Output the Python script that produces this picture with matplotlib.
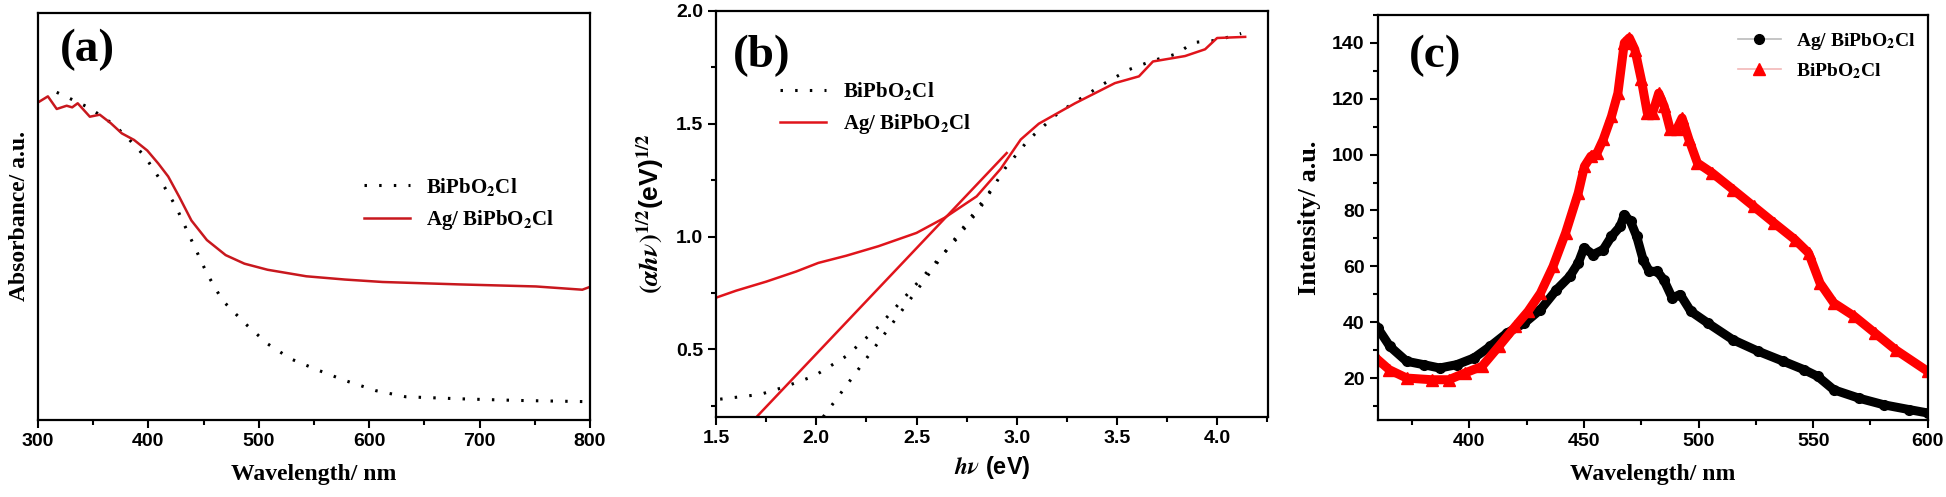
import numpy as np
import matplotlib
matplotlib.use("Agg")
import matplotlib.pyplot as plt
from matplotlib.ticker import MultipleLocator
from matplotlib.lines import Line2D

plt.rcParams['font.family'] = ['Liberation Sans', 'DejaVu Sans']
plt.rcParams['font.weight'] = 'bold'
plt.rcParams['mathtext.fontset'] = 'stix'

# (a) UV-vis absorbance, arbitrary units (0..1 of plot height)
wl_ag = [300, 309, 317, 326, 331, 336, 347, 356, 366, 376, 387, 399, 409, 418, 428,
         439, 453, 470, 487, 508, 543, 578, 612, 682, 751, 793, 800]
abs_ag = [0.780, 0.795, 0.764, 0.772, 0.768, 0.778, 0.745, 0.750, 0.729, 0.704, 0.688,
          0.662, 0.630, 0.598, 0.548, 0.490, 0.442, 0.405, 0.384, 0.369, 0.353, 0.345,
          0.339, 0.333, 0.328, 0.320, 0.327]
wl_bi = [317, 335, 347, 369, 383, 397, 411, 425, 439, 453, 467, 488, 508, 529, 554,
         578, 606, 633, 682, 734, 797]
abs_bi = [0.805, 0.782, 0.766, 0.725, 0.688, 0.647, 0.589, 0.524, 0.442, 0.360, 0.294,
          0.236, 0.187, 0.150, 0.122, 0.097, 0.072, 0.057, 0.052, 0.048, 0.045]

# (b) Tauc plot
ev_ag = [1.50, 1.60, 1.75, 1.90, 2.01, 2.15, 2.31, 2.50, 2.64, 2.80, 2.92, 3.02, 3.11,
         3.29, 3.49, 3.61, 3.68, 3.84, 3.94, 4.00, 4.14]
tauc_ag = [0.729, 0.760, 0.800, 0.845, 0.883, 0.915, 0.957, 1.016, 1.083, 1.178, 1.300,
           1.430, 1.500, 1.590, 1.680, 1.710, 1.776, 1.800, 1.830, 1.880, 1.885]
ev_bi = [1.52, 1.72, 1.83, 1.99, 2.15, 2.31, 2.46, 2.58, 2.70, 2.82, 2.94, 3.06, 3.21,
         3.44, 3.56, 3.68, 3.80, 3.88, 4.00, 4.12]
tauc_bi = [0.279, 0.300, 0.330, 0.382, 0.470, 0.600, 0.750, 0.870, 0.990, 1.130, 1.300,
           1.430, 1.550, 1.680, 1.740, 1.780, 1.810, 1.860, 1.870, 1.900]
fit_ag_x = [1.707, 2.95]
fit_ag_y = [0.205, 1.37]
fit_bi_x = [2.034, 2.90]
fit_bi_y = [0.200, 1.24]

# (c) PL spectra
pl_x_ag = [360, 365.3, 372.6, 380, 387, 394.5, 402, 409, 416.4, 424, 431, 438, 443.8,
           447.5, 450, 454, 458.4, 462, 465.8, 467.6, 470.3, 473, 475.8, 478.5, 482,
           484.8, 488.5, 492, 496.6, 504, 515, 526, 537, 546, 552, 559, 570, 581, 592, 600]
pl_y_ag = [37.9, 31.3, 26.0, 24.8, 23.6, 24.8, 27.2, 31.3, 36.1, 39.7, 44.5, 51.6, 56.4,
           61.2, 66.6, 64.2, 66.0, 70.7, 74.3, 78.5, 76.1, 70.7, 62.4, 58.2, 58.2,
           55.2, 48.7, 49.9, 43.9, 39.7, 33.7, 29.6, 26.0, 23.0, 20.6, 15.8, 12.8, 10.4, 8.7, 7.5]
pl_x_bi = [360, 365, 372.6, 383.6, 391, 398, 405.5, 412.8, 420, 425.6, 431, 436.5, 442,
           447.5, 450.2, 453, 455.7, 458.4, 462, 464.8, 467.6, 469.8, 472.2, 475, 477.6,
           480, 482.6, 485, 487.6, 490.4, 492.8, 495.8, 499.5, 506, 515, 524, 533, 542,
           548, 553, 559, 568, 577, 586, 600]
pl_y_bi = [26.6, 23.0, 20.0, 19.4, 19.4, 21.8, 24.2, 31.3, 38.5, 43.9, 50.4, 60.0, 72.0,
           86.3, 95.8, 99.4, 100.6, 105.4, 113.7, 122.0, 140.0, 141.8, 137.6, 126.9, 115.0,
           115.0, 122.0, 117.3, 109.0, 109.0, 113.1, 105.4, 97.0, 93.4, 87.5, 81.5, 75.5, 69.6,
           64.8, 54.0, 46.9, 42.1, 36.1, 30.1, 22.4]

RED = '#e0141b'
serif = 'Liberation Serif'
lab_kw = dict(family=serif, fontweight='bold', fontsize=17)
leg_prop = dict(family=serif, weight='bold', size=15)
dots = (0, (0.8, 4))

fig = plt.figure(figsize=(19.46, 4.97), dpi=100)
ax_a = fig.add_axes([0.0195, 0.155, 0.2837, 0.819])
ax_b = fig.add_axes([0.368, 0.161, 0.2837, 0.817])
ax_c = fig.add_axes([0.708, 0.155, 0.2826, 0.815])

for ax in (ax_a, ax_b, ax_c):
    for s in ax.spines.values():
        s.set_linewidth(1.6)
    ax.tick_params(which='both', direction='out', width=1.5, labelsize=14)
    ax.tick_params(which='major', length=6)
    ax.tick_params(which='minor', length=3.5)

# ---- (a)
ax_a.plot(wl_bi, abs_bi, color='black', lw=2.2, ls=dots, label='BiPbO$_\\mathbf{2}$Cl')
ax_a.plot(wl_ag, abs_ag, color='#c8181e', lw=1.8, label='Ag/ BiPbO$_\\mathbf{2}$Cl')
ax_a.set_xlim(300, 800)
ax_a.set_ylim(0, 1)
ax_a.set_yticks([])
ax_a.xaxis.set_major_locator(MultipleLocator(100))
ax_a.xaxis.set_minor_locator(MultipleLocator(50))
ax_a.set_xlabel('Wavelength/ nm', labelpad=10, **lab_kw)
ax_a.set_ylabel('Absorbance/ a.u.', labelpad=6, **lab_kw)
ax_a.text(0.09, 0.91, '(a)', transform=ax_a.transAxes, ha='center', va='center',
          family=serif, fontweight='bold', fontsize=34)
ax_a.legend(loc='upper left', bbox_to_anchor=(0.59, 0.6), frameon=False, prop=leg_prop,
            handlelength=2.2, borderpad=0, borderaxespad=0, labelspacing=0.5)

# ---- (b)
ax_b.plot(ev_bi, tauc_bi, color='black', lw=2.2, ls=dots, label='BiPbO$_\\mathbf{2}$Cl')
ax_b.plot(fit_bi_x, fit_bi_y, color='black', lw=2.2, ls=dots)
ax_b.plot(ev_ag, tauc_ag, color=RED, lw=1.8, label='Ag/ BiPbO$_\\mathbf{2}$Cl')
ax_b.plot(fit_ag_x, fit_ag_y, color=RED, lw=1.8)
ax_b.set_xlim(1.5, 4.255)
ax_b.set_ylim(0.2, 2.0)
ax_b.xaxis.set_major_locator(MultipleLocator(0.5))
ax_b.xaxis.set_minor_locator(MultipleLocator(0.25))
ax_b.yaxis.set_major_locator(MultipleLocator(0.5))
ax_b.yaxis.set_minor_locator(MultipleLocator(0.25))
ax_b.set_xlabel(r'$h\nu$ (eV)', fontsize=17, fontweight='bold', labelpad=5)
ax_b.set_ylabel(r'$(\alpha h\nu)^{1/2}$(eV)$^{\mathbf{1/2}}$', fontsize=19,
                fontweight='bold', labelpad=6)
ax_b.text(0.083, 0.89, '(b)', transform=ax_b.transAxes, ha='center', va='center',
          family=serif, fontweight='bold', fontsize=34)
ax_b.legend(loc='upper left', bbox_to_anchor=(0.116, 0.83), frameon=False, prop=leg_prop,
            handlelength=2.2, borderpad=0, borderaxespad=0, labelspacing=0.5)

# ---- (c)
ax_c.plot(pl_x_ag, pl_y_ag, color='black', lw=6.5, marker='o', ms=7)
ax_c.plot(pl_x_bi, pl_y_bi, color='red', lw=6.5, marker='^', ms=8)
ax_c.set_xlim(360, 600)
ax_c.set_ylim(5, 150)
ax_c.xaxis.set_major_locator(MultipleLocator(50))
ax_c.xaxis.set_minor_locator(MultipleLocator(25))
ax_c.yaxis.set_major_locator(MultipleLocator(20))
ax_c.yaxis.set_minor_locator(MultipleLocator(10))
ax_c.set_xlabel('Wavelength/ nm', labelpad=10, **lab_kw)
ax_c.set_ylabel('Intensity/ a.u.', labelpad=8, family=serif, fontweight='bold',
                fontsize=19)
ax_c.text(0.105, 0.90, '(c)', transform=ax_c.transAxes, ha='center', va='center',
          family=serif, fontweight='bold', fontsize=34)
handles = [Line2D([], [], color='#bbbbbb', lw=1.2, marker='o', ms=7,
                  mfc='black', mec='black'),
           Line2D([], [], color='#f2b8b8', lw=1.2, marker='^', ms=8,
                  mfc='red', mec='red')]
ax_c.legend(handles, ['Ag/ BiPbO$_\\mathbf{2}$Cl', 'BiPbO$_\\mathbf{2}$Cl'],
            loc='upper left', bbox_to_anchor=(0.655, 0.96), frameon=False,
            prop=dict(family=serif, weight='bold', size=14), handlelength=2.2,
            borderpad=0, borderaxespad=0, labelspacing=0.45)

fig.savefig('out.png', dpi=100)
